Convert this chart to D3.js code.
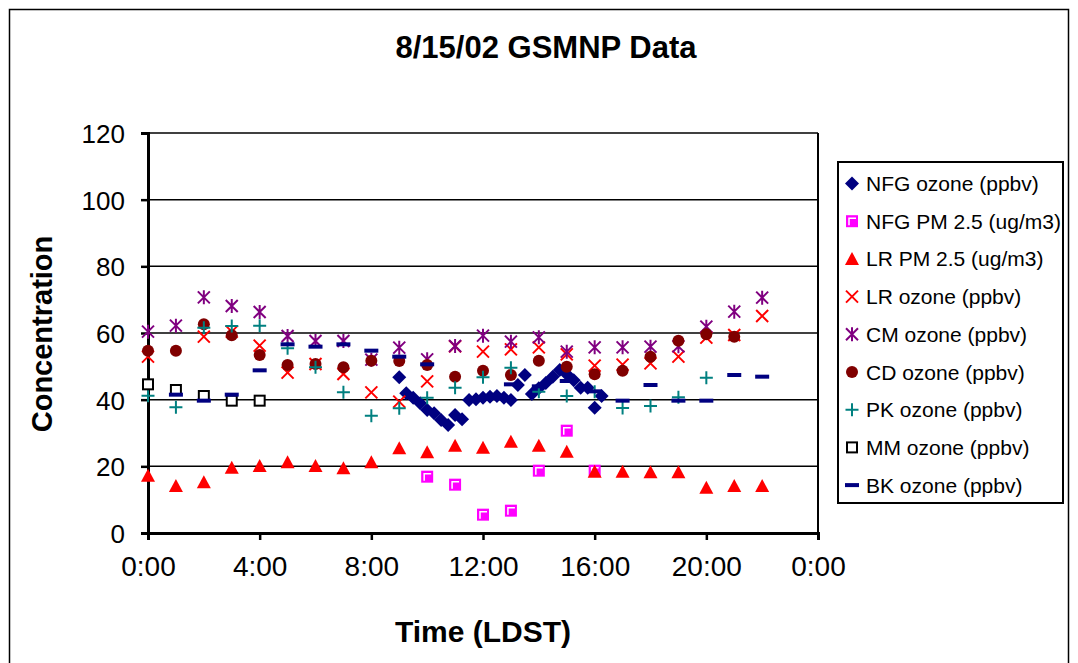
<!DOCTYPE html>
<html>
<head>
<meta charset="utf-8">
<script src="https://cdn.jsdelivr.net/npm/d3@7"></script>
<style>
  body { margin: 0; background: #fff; }
  svg text { font-family: "Liberation Sans", Arial, sans-serif; }
</style>
</head>
<body>
<svg id="chart" width="1078" height="663"></svg>
<script>
// hours for the hourly site series
var hours = d3.range(0, 23);

// NFG ozone sampled every 15 minutes, 9:00 .. 16:15
var nfg_times = d3.range(0, 30).map(function (i) { return 9 + i * 0.25; });
var nfg_ozone = [46.7, 41.9, 40.6, 38.9, 36.9, 35.9, 33.9, 32.4, 35.4, 34.1,
  39.9, 40.1, 40.6, 40.9, 41.1, 40.6, 39.9, 44.4, 47.4, 41.7,
  43.4, 45.0, 46.9, 48.9, 47.6, 45.8, 43.6, 43.6, 37.6, 41.1];

var nfg_pm_hours = [10, 11, 12, 13, 14, 15, 16];
var nfg_pm = [16.9, 14.5, 5.5, 6.7, 18.7, 30.7, 18.7];

var lr_pm = [17.2, 14.1, 15.2, 19.6, 20.1, 21.2, 20.1, 19.4, 21.2, 25.4, 24.2, 26.2,
  25.6, 27.4, 26.2, 24.4, 18.4, 18.4, 18.2, 18.2, 13.6, 14.1, 14.1];
var lr_ozone = [52.9, null, 58.9, 60.4, 56.2, 48.1, 50.7, 47.7, 42.2, 39.4, 45.5, 56.0,
  54.4, 55.1, 55.7, 53.6, 50.2, 50.5, 50.9, 52.9, 58.6, 59.4, 65.1];
var cm_ozone = [60.4, 62.2, 70.7, 68.1, 66.3, 59.1, 57.6, 57.6, 52.0, 55.6, 52.1, 56.1,
  59.2, 57.4, 58.7, 54.4, 55.7, 55.7, 55.9, 56.0, 61.9, 66.4, 70.6];
var cd_ozone = [54.7, 54.7, 62.6, 59.3, 53.4, 50.4, 50.7, 49.7, 51.7, 51.6, 50.4, 46.9,
  48.7, 47.4, 51.7, 49.9, 47.6, 48.7, 52.9, 57.7, 59.6, 58.9, null];
var pk_ozone = [41.2, 37.7, 61.6, 62.1, 62.2, 55.4, 49.7, 42.2, 35.2, 37.4, 40.6, 43.6,
  46.7, 49.6, 42.4, 41.1, 42.4, 37.5, 38.1, 40.7, 46.6, null, null];
var mm_ozone = [44.6, 42.9, 41.1, 39.7, 39.7];
var bk_ozone = [null, 41.5, 39.7, 41.5, 48.8, 56.6, 55.9, 56.6, 54.7, 52.9, 50.6, null,
  null, 44.6, 44.0, 45.6, 42.5, 39.7, 44.4, 39.7, 39.7, 47.4, 46.9];

var y_ticks = [0, 20, 40, 60, 80, 100, 120];
var x_ticks = [0, 4, 8, 12, 16, 20, 24];

var legend_labels = ['NFG ozone (ppbv)', 'NFG PM 2.5 (ug/m3)', 'LR PM 2.5 (ug/m3)',
  'LR ozone (ppbv)', 'CM ozone (ppbv)', 'CD ozone (ppbv)', 'PK ozone (ppbv)',
  'MM ozone (ppbv)', 'BK ozone (ppbv)'];
var legend_markers = ['diamond', 'bevel', 'triangle', 'cross', 'star', 'circle', 'plus', 'square', 'dash'];

var svg = d3.select('#chart');

// outer chart frame
svg.append('rect')
  .attr('x', 9.5).attr('y', 9.5)
  .attr('width', 1059).attr('height', 670)
  .attr('fill', '#fff').attr('stroke', '#000').attr('stroke-width', 1.5);

var plot = { left: 148, right: 818, top: 133, bottom: 533 };

var x = d3.scaleLinear().domain([0, 24]).range([plot.left, plot.right]);
var y = d3.scaleLinear().domain([0, 120]).range([plot.bottom, plot.top]);

// gridlines
svg.append('g').selectAll('line')
  .data(y_ticks.filter(function (d) { return d > 0; }))
  .enter().append('line')
  .attr('x1', plot.left).attr('x2', plot.right)
  .attr('y1', function (d) { return y(d); })
  .attr('y2', function (d) { return y(d); })
  .attr('stroke', '#000').attr('stroke-width', 1.5);

// right frame of the plot area
svg.append('line')
  .attr('x1', plot.right).attr('x2', plot.right)
  .attr('y1', plot.top).attr('y2', plot.bottom)
  .attr('stroke', '#000').attr('stroke-width', 2);

// axes
var yAxis = d3.axisLeft(y).tickValues(y_ticks).tickSize(7).tickPadding(16);
var xAxis = d3.axisBottom(x).tickValues(x_ticks).tickSize(7).tickPadding(26)
  .tickFormat(function (d) { return (d % 24) + ':00'; });

var gy = svg.append('g').attr('transform', 'translate(' + plot.left + ',0)').call(yAxis);
var gx = svg.append('g').attr('transform', 'translate(0,' + plot.bottom + ')').call(xAxis);

[gy, gx].forEach(function (g) {
  g.select('.domain').attr('stroke', '#000').attr('stroke-width', 3);
  g.selectAll('.tick line').attr('stroke', '#000').attr('stroke-width', 2.5);
  g.selectAll('.tick text').attr('fill', '#000');
});
gy.selectAll('.tick text').attr('dy', '0.36em').style('font-size', '26px');
gx.selectAll('.tick text').attr('dy', '0.36em').style('font-size', '28px');

// marker drawing
function drawMarker(g, type, cx, cy) {
  var s;
  if (type === 'diamond') {
    s = 7;
    g.append('path')
      .attr('d', 'M' + cx + ',' + (cy - s) + 'L' + (cx + s) + ',' + cy + 'L' + cx + ',' + (cy + s) + 'L' + (cx - s) + ',' + cy + 'Z')
      .attr('fill', '#000080');
  }
  else if (type === 'bevel') {
    s = 6;
    g.append('rect').attr('x', cx - s).attr('y', cy - s).attr('width', 2 * s).attr('height', 2 * s)
      .attr('fill', '#ff00ff');
    g.append('path')
      .attr('d', 'M' + (cx - s + 3) + ',' + (cy + s - 2) + 'V' + (cy - s + 3) + 'H' + (cx + s - 2))
      .attr('fill', 'none').attr('stroke', '#fff').attr('stroke-width', 1.5);
  }
  else if (type === 'triangle') {
    g.append('path')
      .attr('d', 'M' + cx + ',' + (cy - 7) + 'L' + (cx + 7) + ',' + (cy + 6) + 'L' + (cx - 7) + ',' + (cy + 6) + 'Z')
      .attr('fill', '#ff0000');
  }
  else if (type === 'cross') {
    s = 6;
    g.append('path')
      .attr('d', 'M' + (cx - s) + ',' + (cy - s) + 'L' + (cx + s) + ',' + (cy + s) + 'M' + (cx + s) + ',' + (cy - s) + 'L' + (cx - s) + ',' + (cy + s))
      .attr('stroke', '#ff0000').attr('stroke-width', 2);
  }
  else if (type === 'star') {
    s = 6;
    g.append('path')
      .attr('d', 'M' + (cx - s) + ',' + (cy - s) + 'L' + (cx + s) + ',' + (cy + s) + 'M' + (cx + s) + ',' + (cy - s) + 'L' + (cx - s) + ',' + (cy + s) + 'M' + cx + ',' + (cy - s - 1) + 'V' + (cy + s + 1))
      .attr('stroke', '#800080').attr('stroke-width', 2);
  }
  else if (type === 'circle') {
    g.append('circle').attr('cx', cx).attr('cy', cy).attr('r', 6)
      .attr('fill', '#800000');
  }
  else if (type === 'plus') {
    s = 6.5;
    g.append('path')
      .attr('d', 'M' + (cx - s) + ',' + cy + 'H' + (cx + s) + 'M' + cx + ',' + (cy - s) + 'V' + (cy + s))
      .attr('stroke', '#008080').attr('stroke-width', 2);
  }
  else if (type === 'square') {
    s = 5;
    g.append('rect').attr('x', cx - s).attr('y', cy - s).attr('width', 2 * s).attr('height', 2 * s)
      .attr('fill', '#fff').attr('stroke', '#000').attr('stroke-width', 2);
  }
  else if (type === 'dash') {
    g.append('rect').attr('x', cx - 7).attr('y', cy - 2).attr('width', 14).attr('height', 4)
      .attr('fill', '#000080');
  }
}

function drawSeries(xs, ys, type) {
  var g = svg.append('g').attr('class', 'series-' + type);
  ys.forEach(function (v, i) {
    if (v === null || v === undefined) {
      return;
    }
    drawMarker(g, type, x(xs[i]), y(v));
  });
}

drawSeries(nfg_times, nfg_ozone, 'diamond');
drawSeries(nfg_pm_hours, nfg_pm, 'bevel');
drawSeries(hours, lr_pm, 'triangle');
drawSeries(hours, lr_ozone, 'cross');
drawSeries(hours, cm_ozone, 'star');
drawSeries(hours, cd_ozone, 'circle');
drawSeries(hours, pk_ozone, 'plus');
drawSeries(hours, mm_ozone, 'square');
drawSeries(hours, bk_ozone, 'dash');

// titles
svg.append('text')
  .attr('x', 546).attr('y', 58)
  .attr('text-anchor', 'middle')
  .style('font-size', '31px').style('font-weight', 'bold')
  .text('8/15/02 GSMNP Data');

svg.append('text')
  .attr('x', 483).attr('y', 642)
  .attr('text-anchor', 'middle')
  .style('font-size', '30px').style('font-weight', 'bold')
  .text('Time (LDST)');

svg.append('text')
  .attr('transform', 'translate(52,334) rotate(-90)')
  .attr('text-anchor', 'middle')
  .style('font-size', '29px').style('font-weight', 'bold')
  .text('Concentration');

// legend
var legend = svg.append('g');
legend.append('rect')
  .attr('x', 838).attr('y', 162)
  .attr('width', 225).attr('height', 341)
  .attr('fill', '#fff').attr('stroke', '#000').attr('stroke-width', 2);

legend_labels.forEach(function (label, i) {
  var ly = 183.5 + i * 37.7;
  drawMarker(legend, legend_markers[i], 852, ly);
  legend.append('text')
    .attr('x', 866).attr('y', ly)
    .attr('dy', '0.36em')
    .style('font-size', '21px')
    .text(label);
});
</script>
</body>
</html>
